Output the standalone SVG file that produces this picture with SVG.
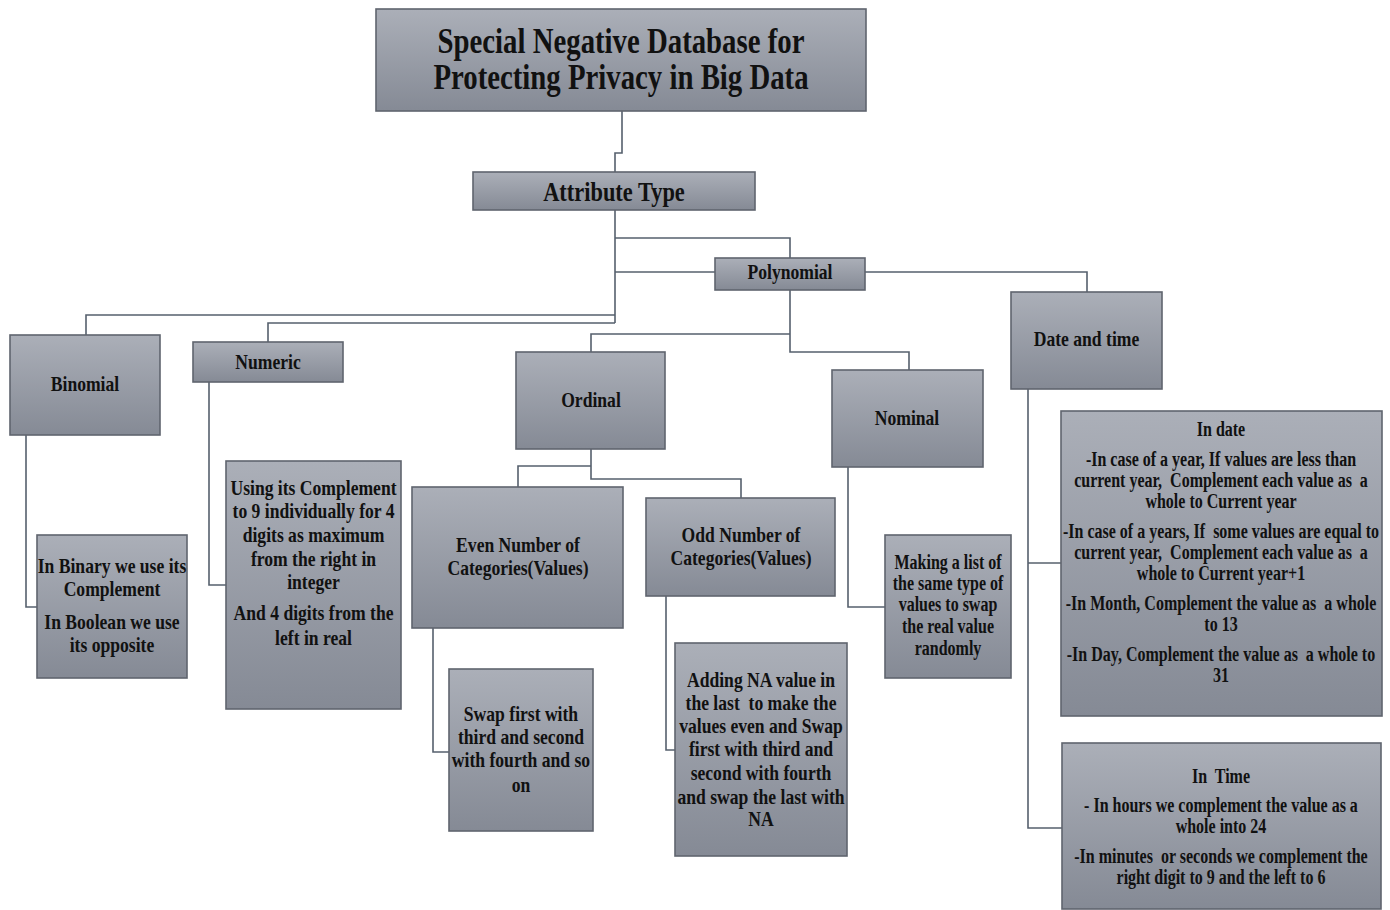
<svg xmlns="http://www.w3.org/2000/svg" width="1390" height="910" viewBox="0 0 1390 910">
<defs>
<linearGradient id="g" x1="0" y1="0" x2="0" y2="1">
<stop offset="0" stop-color="#abafb8"/>
<stop offset="1" stop-color="#858a95"/>
</linearGradient>
<style>
.box{fill:url(#g);stroke:#5f646e;stroke-width:1.6}
.c{fill:none;stroke:#56606d;stroke-width:1.6}
text{font-family:"Liberation Serif","Times New Roman",serif;font-weight:bold;fill:#111;text-anchor:middle}
.t{font-size:36px}
.a{font-size:28px}
.m{font-size:22px}
.s{font-size:20px}
</style>
</defs>
<rect width="1390" height="910" fill="#fff"/>
<g id="connectors">
<path class="c" d="M622,111 V153 H615 V172"/>
<path class="c" d="M615,210 V323"/>
<path class="c" d="M615,238 H790 V258"/>
<path class="c" d="M615,272 H715"/>
<path class="c" d="M615,315 H86 V335"/>
<path class="c" d="M615,323 H268 V342"/>
<path class="c" d="M790,290 V352 H909 V370"/>
<path class="c" d="M790,334 H591 V352"/>
<path class="c" d="M865,272 H1087 V292"/>
<path class="c" d="M591,449 V479 H741 V498"/>
<path class="c" d="M591,466 H518 V487"/>
<path class="c" d="M26,435 V607 H37"/>
<path class="c" d="M209,382 V585 H226"/>
<path class="c" d="M433,628 V752 H449"/>
<path class="c" d="M666,596 V750 H675"/>
<path class="c" d="M848,467 V607 H885"/>
<path class="c" d="M1028,389 V828 H1062"/>
<path class="c" d="M1028,563 H1061"/>
</g>
<g id="title"><rect class="box" x="376" y="9" width="490" height="102"/>
<g transform="scale(0.8 1)"><text class="t" x="776.25" y="53">Special Negative Database for</text><text class="t" x="776.25" y="89">Protecting Privacy in Big Data</text></g></g>
<g id="attribute"><rect class="box" x="473" y="172" width="282" height="38"/>
<g transform="scale(0.8 1)"><text class="a" x="767.5" y="201">Attribute Type</text></g></g>
<g id="polynomial"><rect class="box" x="715" y="258" width="150" height="32"/>
<g transform="scale(0.8 1)"><text class="m" x="987.5" y="279">Polynomial</text></g></g>
<g id="binomial"><rect class="box" x="10" y="335" width="150" height="100"/>
<g transform="scale(0.8 1)"><text class="m" x="106.25" y="391">Binomial</text></g></g>
<g id="numeric"><rect class="box" x="193" y="342" width="150" height="40"/>
<g transform="scale(0.8 1)"><text class="m" x="335" y="369">Numeric</text></g></g>
<g id="ordinal"><rect class="box" x="516" y="352" width="149" height="97"/>
<g transform="scale(0.8 1)"><text class="m" x="738.75" y="407">Ordinal</text></g></g>
<g id="nominal"><rect class="box" x="832" y="370" width="151" height="97"/>
<g transform="scale(0.8 1)"><text class="m" x="1133.75" y="425">Nominal</text></g></g>
<g id="datetime"><rect class="box" x="1011" y="292" width="151" height="97"/>
<g transform="scale(0.8 1)"><text class="m" x="1358.1" y="346">Date and time</text></g></g>
<g id="binomial-detail"><rect class="box" x="37" y="535" width="150" height="143"/>
<g transform="scale(0.8 1)"><text class="m" x="140" y="573">In Binary we use its</text><text class="m" x="140" y="596">Complement</text><text class="m" x="140" y="629">In Boolean we use</text><text class="m" x="140" y="652">its opposite</text></g></g>
<g id="numeric-detail"><rect class="box" x="226" y="461" width="175" height="248"/>
<g transform="scale(0.8 1)"><text class="m" x="391.9" y="495">Using its Complement</text><text class="m" x="391.9" y="518">to 9 individually for 4</text><text class="m" x="391.9" y="542">digits as maximum</text><text class="m" x="391.9" y="566">from the right in</text><text class="m" x="391.9" y="589">integer</text><text class="m" x="391.9" y="620">And 4 digits from the</text><text class="m" x="391.9" y="645">left in real</text></g></g>
<g id="even"><rect class="box" x="412" y="487" width="211" height="141"/>
<g transform="scale(0.8 1)"><text class="m" x="647.5" y="552">Even Number of</text><text class="m" x="647.5" y="575">Categories(Values)</text></g></g>
<g id="odd"><rect class="box" x="646" y="498" width="189" height="98"/>
<g transform="scale(0.8 1)"><text class="m" x="926.25" y="542">Odd Number of</text><text class="m" x="926.25" y="565">Categories(Values)</text></g></g>
<g id="even-detail"><rect class="box" x="449" y="669" width="144" height="162"/>
<g transform="scale(0.8 1)"><text class="m" x="651.25" y="721">Swap first with</text><text class="m" x="651.25" y="744">third and second</text><text class="m" x="651.25" y="767">with fourth and so</text><text class="m" x="651.25" y="792">on</text></g></g>
<g id="odd-detail"><rect class="box" x="675" y="643" width="172" height="213"/>
<g transform="scale(0.8 1)"><text class="m" x="951.25" y="687">Adding NA value in</text><text class="m" x="951.25" y="710" xml:space="preserve">the last  to make the</text><text class="m" x="951.25" y="733">values even and Swap</text><text class="m" x="951.25" y="756">first with third and</text><text class="m" x="951.25" y="780">second with fourth</text><text class="m" x="951.25" y="804">and swap the last with</text><text class="m" x="951.25" y="826">NA</text></g></g>
<g id="nominal-detail"><rect class="box" x="885" y="535" width="126" height="143"/>
<g transform="scale(0.8 1)"><text class="s" x="1185" y="569">Making a list of</text><text class="s" x="1185" y="590">the same type of</text><text class="s" x="1185" y="611">values to swap</text><text class="s" x="1185" y="633">the real value</text><text class="s" x="1185" y="655">randomly</text></g></g>
<g id="date-detail"><rect class="box" x="1061" y="411" width="321" height="305"/>
<g transform="scale(0.8 1)"><text class="s" x="1526.25" y="436">In date</text><text class="s" x="1526.25" y="466">-In case of a year, If values are less than</text><text class="s" x="1526.25" y="487" xml:space="preserve">current year,  Complement each value as  a</text><text class="s" x="1526.25" y="508">whole to Current year</text><text class="s" x="1526.25" y="538" xml:space="preserve">-In case of a years, If  some values are equal to</text><text class="s" x="1526.25" y="559" xml:space="preserve">current year,  Complement each value as  a</text><text class="s" x="1526.25" y="580">whole to Current year+1</text><text class="s" x="1526.25" y="610" xml:space="preserve">-In Month, Complement the value as  a whole</text><text class="s" x="1526.25" y="631">to 13</text><text class="s" x="1526.25" y="661" xml:space="preserve">-In Day, Complement the value as  a whole to</text><text class="s" x="1526.25" y="682">31</text></g></g>
<g id="time-detail"><rect class="box" x="1062" y="743" width="319" height="166"/>
<g transform="scale(0.8 1)"><text class="s" x="1526.25" y="783" xml:space="preserve">In  Time</text><text class="s" x="1526.25" y="812">- In hours we complement the value as a</text><text class="s" x="1526.25" y="833">whole into 24</text><text class="s" x="1526.25" y="863" xml:space="preserve">-In minutes  or seconds we complement the</text><text class="s" x="1526.25" y="884">right digit to 9 and the left to 6</text></g></g>
</svg>
